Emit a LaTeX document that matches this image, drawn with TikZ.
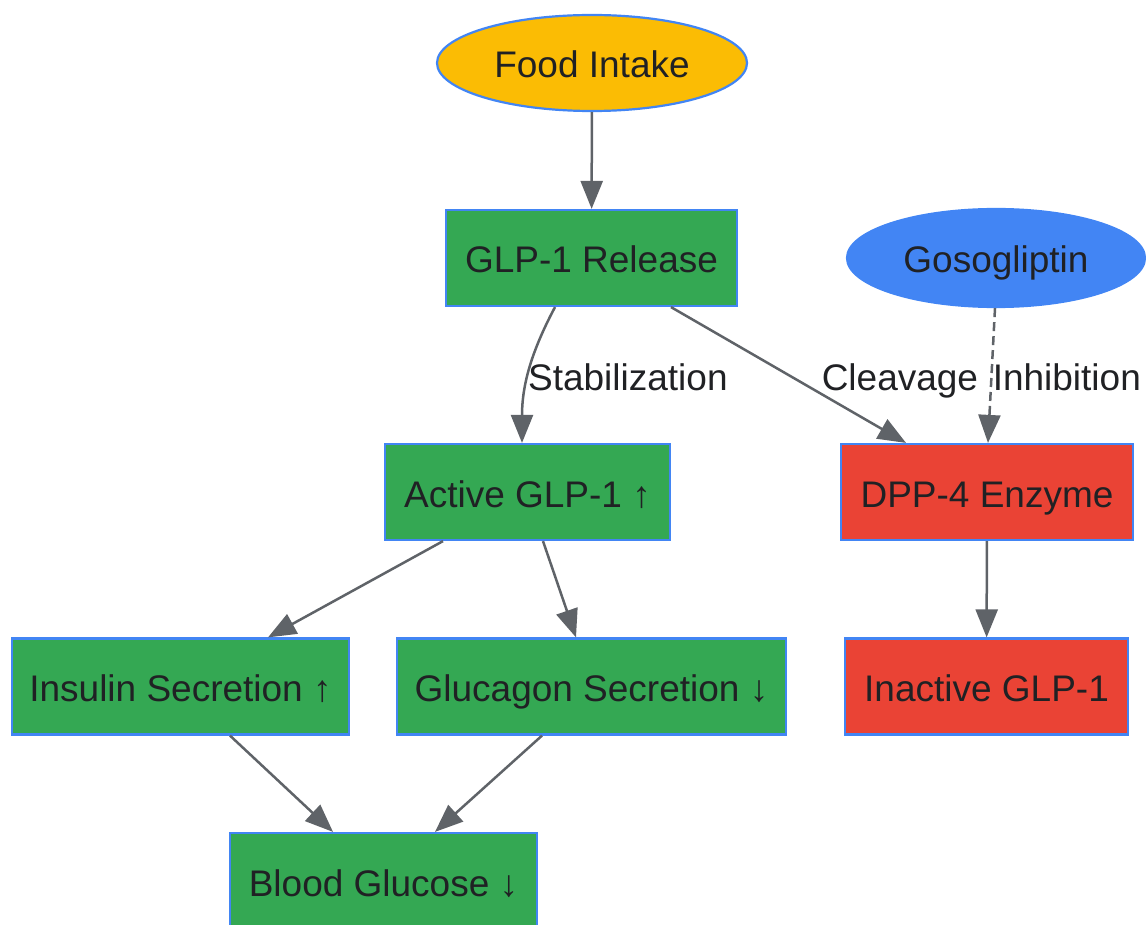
\documentclass[tikz,border=0pt]{standalone}
\usepackage{fontspec}
\setmainfont{Liberation Sans}
\usetikzlibrary{arrows.meta,shapes.geometric}
\definecolor{gyellow}{HTML}{FBBC04}
\definecolor{ggreen}{HTML}{34A853}
\definecolor{gred}{HTML}{EA4335}
\definecolor{gblue}{HTML}{4285F4}
\definecolor{edgegray}{HTML}{5F6368}
\definecolor{ink}{HTML}{202124}
\begin{document}
\begin{tikzpicture}[x=1pt,y=1pt,
        every node/.style={font=\fontsize{37}{44}\selectfont,text=ink,text height=30pt,text depth=0pt},
        box/.style={draw=gblue,line width=2.2pt,minimum height=96pt,inner sep=0pt},
        oval/.style={ellipse,draw=gblue,line width=2.2pt,minimum height=96pt,inner sep=0pt},
        arr/.style={draw=edgegray,line width=2.5pt,-{Triangle[length=28pt,width=22pt]}},
        lbl/.style={inner sep=2pt}]
        \useasboundingbox (0,0) rectangle (1146,-925);
        \node[oval,fill=gyellow,minimum width=310pt] (food) at (592,-63) {Food Intake};
        \node[box,fill=ggreen,minimum width=291pt] (rel) at (591.5,-258) {GLP-1 Release};
        \node[oval,fill=gblue,minimum width=298pt,minimum height=98pt] (goso) at (996,-258) {Gosogliptin};
        \node[box,fill=ggreen,minimum width=285pt] (act) at (527.5,-492) {Active GLP-1 ↑};
        \node[box,fill=gred,minimum width=292pt] (dpp) at (987,-492) {DPP-4 Enzyme};
        \node[box,fill=ggreen,minimum width=337pt] (ins) at (180.5,-686.5) {Insulin Secretion ↑};
        \node[box,fill=ggreen,minimum width=389pt] (glu) at (591.5,-686.5) {Glucagon Secretion ↓};
        \node[box,fill=gred,minimum width=283pt] (inact) at (986.5,-686.5) {Inactive GLP-1};
        \node[box,fill=ggreen,minimum width=307pt] (blood) at (383.5,-881) {Blood Glucose ↓};
        \draw[arr] (food) -- (rel);
        \draw[arr] ([xshift=-36.5pt]rel.south) to[out=-118,in=90] node[lbl,pos=.5,anchor=west,xshift=-4pt,yshift=-3pt]{Stabilization} ([xshift=-5.5pt]act.north);
        \draw[arr] ([xshift=79.5pt]rel.south) -- node[lbl,pos=.5,anchor=west,xshift=30pt]{Cleavage} ([xshift=-81pt]dpp.north);
        \draw[arr,dashed,dash pattern=on 9pt off 5pt] ([xshift=-1pt]goso.south) -- node[pos=.5,anchor=west,inner sep=0pt]{Inhibition} ([xshift=1pt]dpp.north);
        \draw[arr] ([xshift=-84.5pt]act.south) -- ([xshift=87.5pt]ins.north);
        \draw[arr] ([xshift=15.5pt]act.south) -- ([xshift=-15.5pt]glu.north);
        \draw[arr] (dpp) -- (inact);
        \draw[arr] ([xshift=49.5pt]ins.south) -- ([xshift=-50.5pt]blood.north);
        \draw[arr] ([xshift=-49.5pt]glu.south) -- ([xshift=51.5pt]blood.north);
    \end{tikzpicture}
\end{document}
